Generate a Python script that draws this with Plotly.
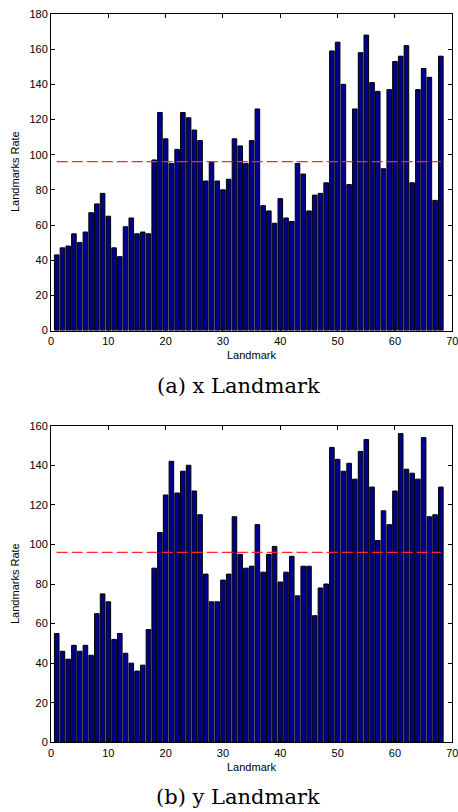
import plotly.graph_objects as go

landmarks = list(range(1, 69))

x_rate = [43, 47, 48, 55, 50, 56, 67, 72, 78, 65, 47, 42, 59, 64, 55, 56, 55, 97, 124, 109,
          95, 103, 124, 121, 114, 108, 85, 96, 85, 80, 86, 109, 105, 95, 108, 126, 71, 68, 61, 75,
          64, 62, 95, 89, 68, 77, 78, 84, 159, 164, 140, 83, 126, 158, 168, 141, 136, 92, 137, 153,
          156, 162, 84, 137, 149, 144, 74, 156]

y_rate = [55, 46, 42, 49, 46, 49, 44, 65, 75, 71, 52, 55, 45, 40, 36, 39, 57, 88, 106, 125,
          142, 126, 137, 140, 127, 115, 85, 71, 71, 82, 85, 114, 95, 88, 89, 110, 86, 95, 99, 81,
          86, 94, 74, 89, 89, 64, 78, 80, 149, 143, 137, 141, 133, 147, 153, 129, 102, 117, 110, 127,
          156, 138, 136, 133, 154, 114, 115, 129]

x_threshold = 96
y_threshold = 96

x_ticks = [0, 10, 20, 30, 40, 50, 60, 70]
top_yticks = [0, 20, 40, 60, 80, 100, 120, 140, 160, 180]
bot_yticks = [0, 20, 40, 60, 80, 100, 120, 140, 160]

W, H = 458, 812
BAR = "rgb(0,0,140)"
tick_font = dict(family="Liberation Sans, Arial, sans-serif", size=11, color="black")

fig = go.Figure()

fig.add_trace(go.Bar(x=landmarks, y=x_rate, width=0.8, marker=dict(color=BAR, line=dict(color="black", width=1)),
                     xaxis="x", yaxis="y", showlegend=False, hoverinfo="skip"))
fig.add_trace(go.Scatter(x=[landmarks[0], landmarks[-1]], y=[x_threshold, x_threshold], mode="lines",
                         line=dict(color="rgb(255,40,40)", width=1.3, dash="11px,4px"),
                         xaxis="x", yaxis="y", showlegend=False, hoverinfo="skip"))
fig.add_trace(go.Bar(x=landmarks, y=y_rate, width=0.8, marker=dict(color=BAR, line=dict(color="black", width=1)),
                     xaxis="x2", yaxis="y2", showlegend=False, hoverinfo="skip"))
fig.add_trace(go.Scatter(x=[landmarks[0], landmarks[-1]], y=[y_threshold, y_threshold], mode="lines",
                         line=dict(color="rgb(255,40,40)", width=1.3, dash="11px,4px"),
                         xaxis="x2", yaxis="y2", showlegend=False, hoverinfo="skip"))

xd = [51 / W, 452.3 / W]
top_dom = [1 - 330.5 / H, 1 - 14 / H]
bot_dom = [1 - 742.3 / H, 1 - 425.7 / H]

ax_common = dict(showline=True, linecolor="black", linewidth=1, mirror="ticks", ticks="inside",
                 ticklen=4, tickcolor="black", showgrid=False, zeroline=False, tickfont=tick_font,
                 automargin=False, ticklabeloverflow="allow")

fig.update_layout(
    width=W, height=H, margin=dict(l=0, r=0, t=0, b=0, pad=0),
    paper_bgcolor="white", plot_bgcolor="white", bargap=0.2,
    xaxis=dict(domain=xd, anchor="y", range=[0, 70], tickvals=x_ticks, **ax_common),
    yaxis=dict(domain=top_dom, anchor="x", range=[0, 180], tickvals=top_yticks, **ax_common),
    xaxis2=dict(domain=xd, anchor="y2", range=[0, 70], tickvals=x_ticks, **ax_common),
    yaxis2=dict(domain=bot_dom, anchor="x2", range=[0, 160], tickvals=bot_yticks, **ax_common),
)

lab_font = dict(family="Liberation Sans, Arial, sans-serif", size=11, color="black")
cap_font = dict(family="DejaVu Serif, Liberation Serif, serif", size=21, color="black")

annots = [
    dict(text="Landmark", x=252 / W, y=1 - 355 / H, font=lab_font),
    dict(text="Landmarks Rate", x=15 / W, y=1 - 172 / H, font=lab_font, textangle=-90),
    dict(text="(a) x Landmark", x=238 / W, y=1 - 386 / H, font=cap_font),
    dict(text="Landmark", x=252 / W, y=1 - 767 / H, font=lab_font),
    dict(text="Landmarks Rate", x=15 / W, y=1 - 584 / H, font=lab_font, textangle=-90),
    dict(text="(b) y Landmark", x=238 / W, y=1 - 797 / H, font=cap_font),
]
for a in annots:
    fig.add_annotation(xref="paper", yref="paper", xanchor="center", yanchor="middle", showarrow=False, **a)

fig.write_html("out.html", config={"displayModeBar": False},
               post_script="document.body.style.margin='0px';")
